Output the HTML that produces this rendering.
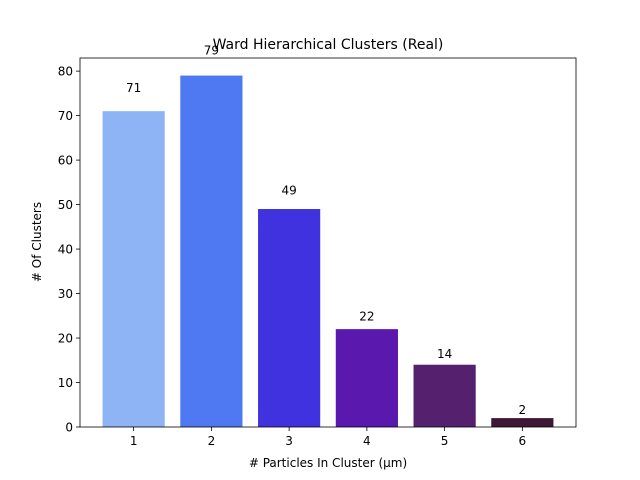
<!DOCTYPE html>
<html><head><meta charset="utf-8"><style>
body{margin:0;background:#fff;}
svg{display:block;font-family:"DejaVu Sans","Liberation Sans",sans-serif;}
</style></head><body>
<svg id="chart" width="640" height="480">
<rect x="0" y="0" width="640" height="480" fill="#fff"/>
<text x="328" y="49" font-size="14" text-anchor="middle">Ward Hierarchical Clusters (Real)</text>
<g id="bars"></g>
<g id="axes"></g>
<text x="328" y="467" font-size="12" text-anchor="middle"># Particles In Cluster (µm)</text>
<text transform="translate(41,242) rotate(-90)" font-size="12" text-anchor="middle"># Of Clusters</text>
</svg>
<script>
const categories = [1, 2, 3, 4, 5, 6];
const values = [71, 79, 49, 22, 14, 2];
const colors = ["#8fb4f5", "#4f78f3", "#4032de", "#5a18ae", "#55216f", "#3e1836"];
const yTicks = [0, 10, 20, 30, 40, 50, 60, 70, 80];

const L = 80, R = 576, T = 58, B = 427;
const xMin = 0.31, xMax = 6.69, yMax = Math.max(...values) * 1.05;
const xs = v => L + (v - xMin) / (xMax - xMin) * (R - L);
const ys = v => B - v / yMax * (B - T);
const NS = "http://www.w3.org/2000/svg";
const bars = document.getElementById("bars");
const axes = document.getElementById("axes");
function mk(tag, attrs, parent, txt) {
  const e = document.createElementNS(NS, tag);
  for (const k in attrs) e.setAttribute(k, attrs[k]);
  if (txt !== undefined) e.textContent = txt;
  parent.appendChild(e);
  return e;
}
categories.forEach((c, i) => {
  const x0 = xs(c - 0.4), x1 = xs(c + 0.4);
  const r = mk("rect", {x: x0, y: ys(values[i]), width: x1 - x0, height: B - ys(values[i]), fill: colors[i]}, bars);
  
  
  const t = mk("text", {x: xs(c), y: ys(values[i] * 1.05 + 1.8) + 4.5, "font-size": 12, "text-anchor": "middle"}, bars, String(values[i]));
  
  
  mk("line", {x1: xs(c), x2: xs(c), y1: B, y2: B + 4, stroke: "#000", "stroke-width": 0.8}, axes);
  const xl = mk("text", {x: xs(c), y: B + 18, "font-size": 12, "text-anchor": "middle"}, axes, String(c));
  
  
});
yTicks.forEach(v => {
  mk("line", {x1: L - 4, x2: L, y1: ys(v), y2: ys(v), stroke: "#000", "stroke-width": 0.8}, axes);
  const yl = mk("text", {x: L - 7, y: ys(v) + 4.5, "font-size": 12, "text-anchor": "end"}, axes, String(v));
  
  
});
const frame = mk("rect", {x: L, y: T, width: R - L, height: B - T, fill: "none", stroke: "#000", "stroke-width": 0.8}, axes);


</script>
</body></html>
